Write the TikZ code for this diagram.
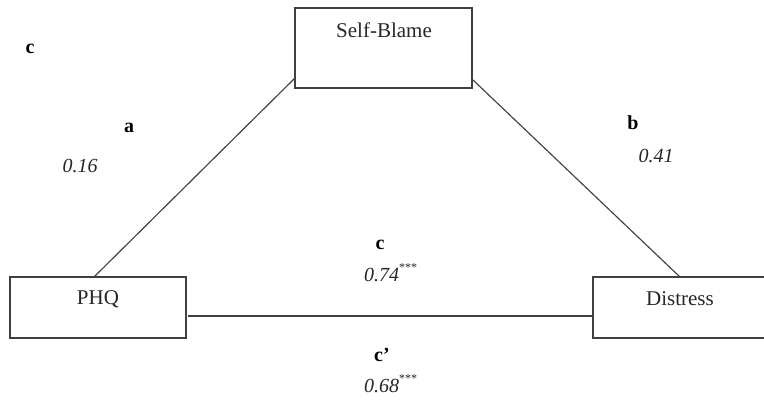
\documentclass[tikz,border=0pt]{standalone}
\usepackage{fontspec}
\setmainfont{Liberation Serif}
\newcommand{\stars}{\raisebox{0.5em}{\fontsize{12}{12}\selectfont\upshape ***}}
\begin{document}
\begin{tikzpicture}[x=1pt,y=-1pt,
  boxst/.style={draw=black!75,line width=1.4pt},
  conn/.style={draw=black!75,line width=1.15pt},
  lbl/.style={font=\fontsize{20}{22}\selectfont\bfseries,inner sep=0pt},
  num/.style={font=\fontsize{20}{22}\selectfont\itshape,inner sep=0pt,text=black!85},
  txt/.style={font=\fontsize{21}{24}\selectfont,inner sep=0pt,text=black!85}]
\useasboundingbox (0,0) rectangle (764,404);
\clip (0,0) rectangle (764,404);
% boxes
\draw[boxst] (295,8) rectangle (472,88);
\draw[boxst] (10,277) rectangle (186,338);
\draw[boxst] (593,277) rectangle (790,338);
\node[txt] (sb) at (384,30) {Self-Blame};
\node[txt] (phq) at (98,299) {PHQ};
\node[txt] (dis) at (680,299) {Distress};
% anchor coordinates
\coordinate (sbl) at (295,78);
\coordinate (sbr) at (473,80);
\coordinate (phqt) at (94,277);
\coordinate (phqr) at (188,316);
\coordinate (dist) at (680,277);
\coordinate (disl) at (593,316);
\draw[conn] (sbl) -- (phqt);
\draw[conn] (sbr) -- (dist);
\draw[conn] (phqr) -- (disl);
% labels
\node[lbl] (lc1) at (30,49) {c};
\node[lbl] (la) at (129,128) {a};
\node[num] (n16) at (80,166) {0.16};
\node[lbl] (lb) at (633,123) {b};
\node[num] (n41) at (656,156) {0.41};
\node[lbl] (lc2) at (380,245) {c};
\node[num,anchor=west] (n74) at (364,273) {0.74\stars};
\node[lbl] (lc3) at (382,355) {c’};
\node[num,anchor=west] (n68) at (364,384) {0.68\stars};
\end{tikzpicture}
\end{document}
